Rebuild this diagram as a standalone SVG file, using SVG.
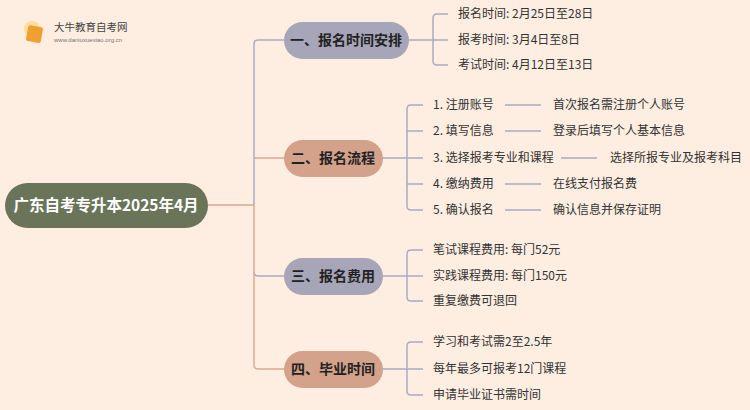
<svg xmlns="http://www.w3.org/2000/svg" width="750" height="410" viewBox="0 0 750 410">
<style>
.t{font-family:"Noto Sans CJK SC","Noto Sans",sans-serif;font-size:12px;fill:#333}
.b{font-family:"Noto Sans CJK SC",sans-serif;font-size:14px;font-weight:bold;fill:#222}
.g{fill:none;stroke:#a9abc3;stroke-width:1.5}
.o{fill:none;stroke:#dba993;stroke-width:1.5}
</style>
<rect width="750" height="410" fill="#feede1"/>
<g id="logo">
<circle cx="32" cy="29" r="8" fill="#fbd46a" opacity="0.6"/>
<rect x="27" y="26" width="15" height="16" rx="2" fill="#f0a030" transform="rotate(10 34 34)"/>
<text x="54" y="31" font-family="Noto Sans CJK SC,sans-serif" font-size="10.5" fill="#444">大牛教育自考网</text>
<text x="54" y="42" font-family="Liberation Sans,sans-serif" font-size="6" fill="#777">www.daniuxuexiao.org.cn</text>
</g>
<g id="connectors">
<path class="o" d="M208 205 H254"/>
<path class="g" d="M284 40 H258 Q254 40 254 44 V205"/>
<path class="o" d="M284 158 H254"/>
<path class="g" d="M284 276 H258 Q254 276 254 272"/>
<path class="o" d="M254 205 V365 Q254 369 258 369 H284"/>
<path class="g" d="M409 40 H433 M448 14 H437 Q433 14 433 18 V61 Q433 65 437 65 H448 M433 40 H448"/>
<path class="g" d="M383 158 H407 M423 105 H411 Q407 105 407 109 V206 Q407 210 411 210 H423 M407 131 H423 M407 158 H423 M407 184 H423"/>
<path class="g" d="M505 105 H541 M505 131 H541 M561 158 H597 M505 184 H541 M505 210 H541"/>
<path class="g" d="M383 276 H407 M423 250 H411 Q407 250 407 254 V297 Q407 301 411 301 H423 M407 276 H423"/>
<path class="g" d="M383 369 H407 M423 342 H411 Q407 342 407 346 V391 Q407 395 411 395 H423 M407 369 H423"/>
</g>
<g id="root"><rect x="5" y="183" width="203" height="45" rx="22.5" fill="#6a7459"/>
<text x="106" y="211" text-anchor="middle" font-family="Noto Sans CJK SC,sans-serif" font-size="15.5" font-weight="bold" fill="#fff">广东自考专升本2025年4月</text></g>
<g id="n1"><rect x="284" y="22" width="125" height="37" rx="18.5" fill="#a7a6b8"/><text class="b" x="346" y="45" text-anchor="middle">一、报名时间安排</text></g>
<g id="n2"><rect x="284" y="140" width="99" height="37" rx="18.5" fill="#d4a28a"/><text class="b" x="333" y="163" text-anchor="middle">二、报名流程</text></g>
<g id="n3"><rect x="284" y="258" width="99" height="37" rx="18.5" fill="#a7a6b8"/><text class="b" x="333" y="281" text-anchor="middle">三、报名费用</text></g>
<g id="n4"><rect x="284" y="351" width="99" height="37" rx="18.5" fill="#d4a28a"/><text class="b" x="333" y="374" text-anchor="middle">四、毕业时间</text></g>
<g id="leaves">
<text class="t" x="458" y="18">报名时间: 2月25日至28日</text>
<text class="t" x="458" y="44">报考时间: 3月4日至8日</text>
<text class="t" x="458" y="69">考试时间: 4月12日至13日</text>
<text class="t" x="433" y="109">1. 注册账号</text>
<text class="t" x="433" y="135">2. 填写信息</text>
<text class="t" x="433" y="162">3. 选择报考专业和课程</text>
<text class="t" x="433" y="188">4. 缴纳费用</text>
<text class="t" x="433" y="214">5. 确认报名</text>
<text class="t" x="553" y="109">首次报名需注册个人账号</text>
<text class="t" x="553" y="135">登录后填写个人基本信息</text>
<text class="t" x="610" y="162">选择所报专业及报考科目</text>
<text class="t" x="553" y="188">在线支付报名费</text>
<text class="t" x="553" y="214">确认信息并保存证明</text>
<text class="t" x="433" y="254">笔试课程费用: 每门52元</text>
<text class="t" x="433" y="280">实践课程费用: 每门150元</text>
<text class="t" x="433" y="305">重复缴费可退回</text>
<text class="t" x="433" y="346">学习和考试需2至2.5年</text>
<text class="t" x="433" y="373">每年最多可报考12门课程</text>
<text class="t" x="433" y="399">申请毕业证书需时间</text>
</g>
</svg>
